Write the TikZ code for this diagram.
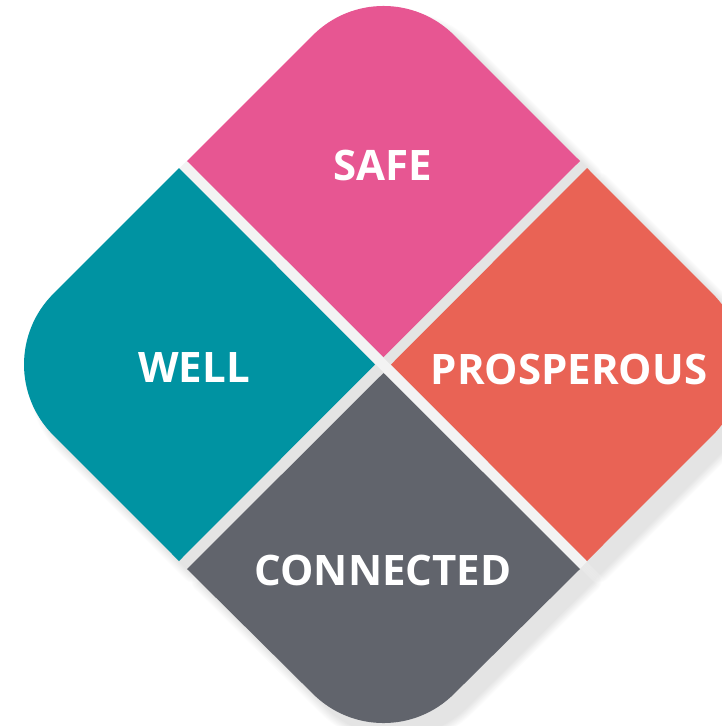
\documentclass[tikz,border=0pt]{standalone}
\usepackage{fontspec}
\setmainfont{Open Sans}
\usetikzlibrary{calc}
\definecolor{safec}{HTML}{E75692}
\definecolor{wellc}{HTML}{0093A2}
\definecolor{prospc}{HTML}{E96355}
\definecolor{connc}{HTML}{61646C}
\definecolor{gaplight}{HTML}{F3F3F3}
\def\safeshape{(187,161) -- (312.8,35.3) .. controls (351.9,-3.8) and (415.1,-3.8) .. (454.2,35.3) -- (580,161) -- (383.5,357) -- cycle}
\def\wellshape{(179,168) -- (53.3,293.8) .. controls (14.25,332.9) and (14.25,396.1) .. (53.3,435.2) -- (179,561) -- (375,364.5) -- cycle}
\def\prospshape{(587,168) -- (712.7,293.8) .. controls (751.8,332.9) and (751.8,396.1) .. (712.7,435.2) -- (587,561) -- (391,364.5) -- cycle}
\def\connshape{(383.5,373) -- (580,569) -- (454.2,693.7) .. controls (415.1,732.8) and (351.9,732.8) .. (312.8,693.7) -- (187,569) -- cycle}
\tikzset{x=1pt,y=-1pt,
 lab/.style={text=white,font=\bfseries\fontsize{42}{46}\selectfont,inner sep=0pt,anchor=center},
 softlayer/.style={draw=black,fill=black,line join=round,line width=#1}}
\newcommand{\softshadow}[1]{%
  \foreach \lyr in {1,3,5,7,9,11,13,15,17}{%
    \begin{scope}[shift={(13,13)},transparency group,opacity=0.0125]
      \path[softlayer=\lyr pt] #1;
    \end{scope}}}
\begin{document}
\begin{tikzpicture}
\useasboundingbox (0,0) rectangle (722,726);
\fill[white] (0,0) rectangle (722,726);
\begin{scope}
\clip (0,0) rectangle (722,726);
\softshadow{\safeshape}
\softshadow{\wellshape}
\softshadow{\prospshape}
\softshadow{\connshape}
\draw[gaplight,line width=10pt] (183,164.5) -- (583.5,565);
\fill[safec] \safeshape;
\fill[wellc] \wellshape;
\fill[prospc] \prospshape;
\fill[connc] \connshape;
\end{scope}
\node[lab] (safe) at (383,165) {SAFE};
\node[lab] (well) at (194,368) {WELL};
\node[lab] (prosp) at (569,369) {PROSPEROUS};
\node[lab] (conn) at (383,570) {CONNECTED};
\end{tikzpicture}
\end{document}
